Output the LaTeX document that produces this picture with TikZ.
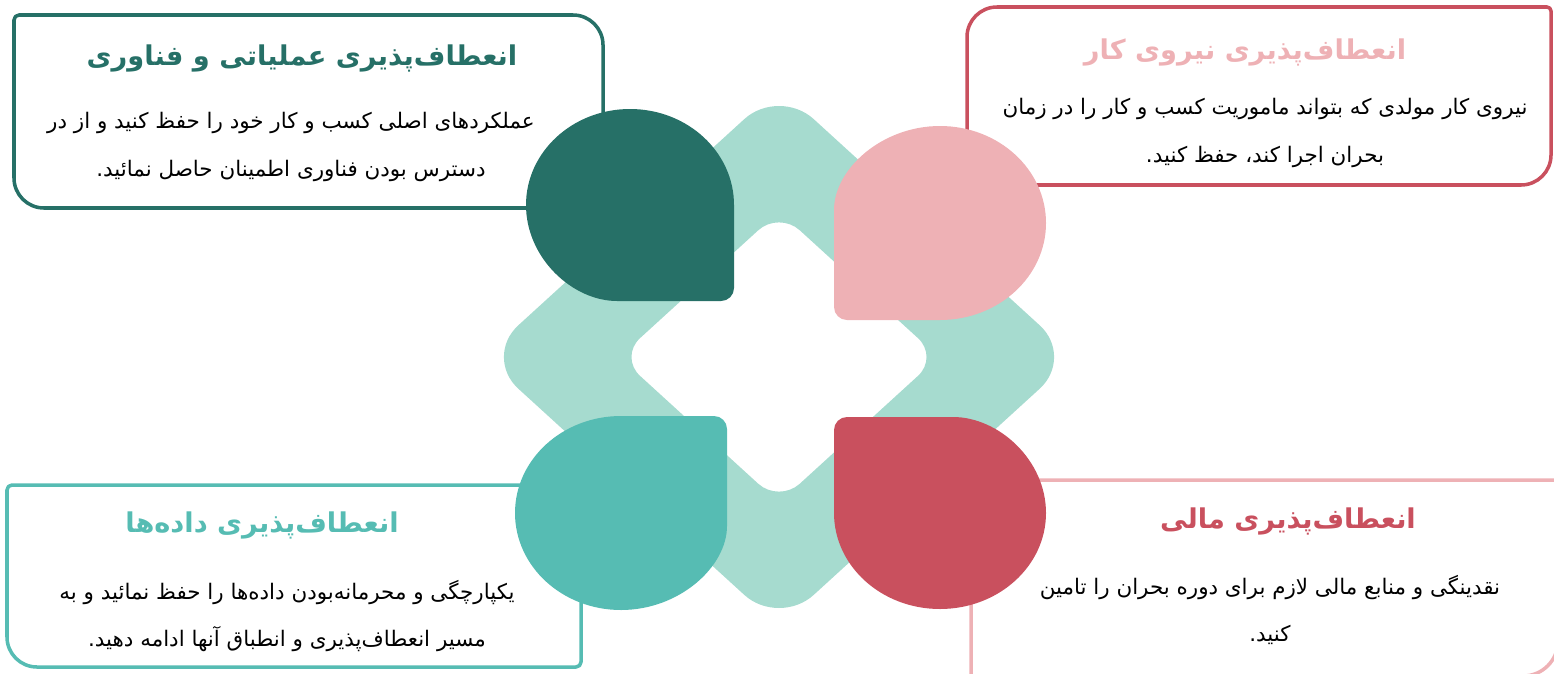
\documentclass[tikz,border=0pt]{standalone}
\usepackage{fontspec}
\newfontfamily\farsifont[Script=Arabic]{DejaVu Sans}
\TeXXeTstate=1
\usepackage{xcolor}
\definecolor{tealdark}{HTML}{267067}
\definecolor{tealmid}{HTML}{56BCB3}
\definecolor{mintring}{HTML}{A6DBCF}
\definecolor{rosepale}{HTML}{EEB1B5}
\definecolor{rosedeep}{HTML}{C9505E}
\usepackage{tikz}
\tikzset{>=latex}
\tikzset{card/.style={line width=2pt},
  heading/.style={font=\farsifont\bfseries\fontsize{15.5}{19}\selectfont},
  bodytext/.style={font=\farsifont\fontsize{12.2}{27}\selectfont,align=center}}

\begin{document}
\begin{tikzpicture}[line cap=round,line join=round,x=0.02cm,y=-0.02cm]
			\useasboundingbox (0,0) rectangle (1554,673);
			\draw[card,tealdark] (14,110) [rounded corners=0.1cm] -- (14,15) -- (300,15) [rounded corners=0.6cm] -- (603,15) -- (603,208) -- (14,208) -- cycle;
			\draw[card,rosedeep] (967,100) [rounded corners=0.6cm] -- (967,7) -- (1250,7) [rounded corners=0.08cm] -- (1551,7) -- (1551,100) [rounded corners=0.6cm] -- (1551,185) -- (967,185) -- cycle;
			\draw[card,tealmid] (7,580) [rounded corners=0.1cm] -- (7,485) -- (300,485) -- (581,485) -- (581,667) -- (300,667) [rounded corners=0.6cm] -- (7,667) -- cycle;
			\draw[card,rosepale] (971,580) -- (971,480) -- (1558,480) -- (1558,580) [rounded corners=0.7cm] -- (1558,676) -- (1250,676) [sharp corners] -- (971,676) -- cycle;
			\begin{scope}[shift={(779,357)},xscale=1.096,rotate=45]
				\fill[mintring,even odd rule] [rounded corners=0.94cm] (-190.6,-190.6) rectangle (190.6,190.6) [rounded corners=0.56cm] (-103,-103) rectangle (103,103);
			\end{scope}
			\fill[tealdark] (630,301) arc[start angle=90,end angle=360,x radius=104,y radius=96] [rounded corners=0.26cm] -- (734,301) -- cycle;
			\fill[rosepale] (834,223) arc[start angle=180,end angle=450,x radius=106,y radius=97] [rounded corners=0.26cm] -- (834,320) -- cycle;
			\fill[tealmid] (727,513) arc[start angle=0,end angle=270,x radius=106,y radius=97] [rounded corners=0.26cm] -- (727,416) -- cycle;
			\fill[rosedeep] (940,417) arc[start angle=270,end angle=540,x radius=106,y radius=96] [rounded corners=0.26cm] -- (834,417) -- cycle;
			\node[heading,text=tealdark] (titleops) at (302,58) {\beginR انعطاف^^^^200cپذیری عملیاتی و فناوری\endR};
			\node[bodytext] (bodyops) at (291,147) {\beginR عملکردهای اصلی کسب و کار خود را حفظ کنید و از در\endR\\ \beginR دسترس بودن فناوری اطمینان حاصل نمائید.\endR};
			\node[heading,text=rosepale] (titlestaff) at (1245,52) {\beginR انعطاف^^^^200cپذیری نیروی کار\endR};
			\node[bodytext] (bodystaff) at (1265,133) {\beginR نیروی کار مولدی که بتواند ماموریت کسب و کار را در زمان\endR\\ \beginR بحران اجرا کند، حفظ کنید.\endR};
			\node[heading,text=tealmid] (titledata) at (262,525) {\beginR انعطاف^^^^200cپذیری داده^^^^200cها\endR};
			\node[bodytext] (bodydata) at (287,616) {\beginR یکپارچگی و محرمانه^^^^200cبودن داده^^^^200cها را حفظ نمائید و به\endR\\ \beginR مسیر انعطاف^^^^200cپذیری و انطباق آنها ادامه دهید.\endR};
			\node[heading,text=rosedeep] (titlefund) at (1288,521) {\beginR انعطاف^^^^200cپذیری مالی\endR};
			\node[bodytext] (bodyfund) at (1270,610) {\beginR نقدینگی و منابع مالی لازم برای دوره بحران را تامین\endR\\ \beginR کنید.\endR};
		\end{tikzpicture}
\end{document}
